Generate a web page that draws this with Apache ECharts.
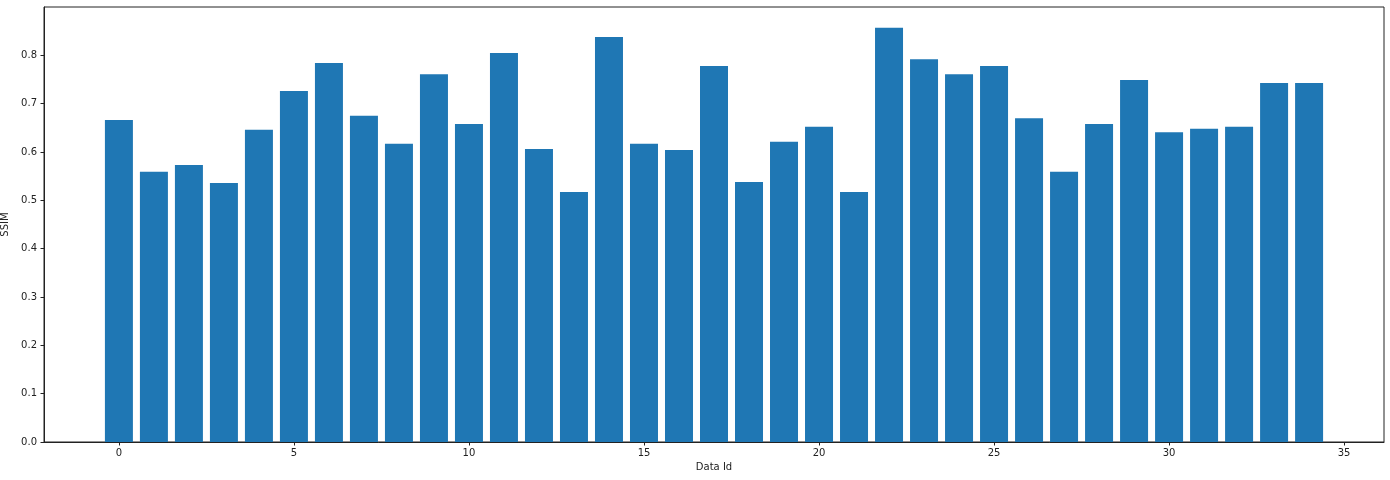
<!DOCTYPE html>
<html>
<head>
<meta charset="utf-8">
<script src="https://cdn.jsdelivr.net/npm/echarts@6/dist/echarts.min.js"></script>
<style>
html, body { margin: 0; padding: 0; background: #fff; }
#container { width: 1390px; height: 480px; }
</style>
</head>
<body>
<div id="container"></div>
<script>
// SSIM per data id
var dataIds = [0,1,2,3,4,5,6,7,8,9,10,11,12,13,14,15,16,17,18,19,20,21,22,23,24,25,26,27,28,29,30,31,32,33,34]
var ssim = [0.666,0.559,0.573,0.536,0.646,0.726,0.784,0.675,0.617,0.761,0.658,0.805,0.606,0.517,0.838,
	0.617,0.604,0.778,0.538,0.621,0.652,0.517,0.857,0.792,0.761,0.778,0.670,0.559,0.658,0.749,
	0.641,0.648,0.652,0.743,0.743]
var xTicks = [0,5,10,15,20,25,30,35]
var yTicks = [0,0.1,0.2,0.3,0.4,0.5,0.6,0.7,0.8]

var font = 'DejaVu Sans'
var dom = document.getElementById("container");
var myChart = echarts.init(dom);

var data = [];
for (var i = 0; i < dataIds.length; i++) {
	data.push([dataIds[i], ssim[i]]);
}

option = {
	animation: false,
	grid: {
		left: 44,
		right: 6,
		top: 7,
		bottom: 38,
		show: true,
		borderColor: '#222',
		borderWidth: 1,
		containLabel: false,
		outerBoundsMode: 'none'
	},
	xAxis: {
		type: 'value',
		min: -2.14,
		max: 36.14,
		name: 'Data Id',
		nameLocation: 'middle',
		nameGap: 20,
		nameTextStyle: { fontFamily: font, fontSize: 10, color: '#222' },
		axisLine: { show: true, onZero: false, lineStyle: { color: '#222', width: 1 } },
		axisTick: { show: true, length: 3.5, customValues: xTicks, lineStyle: { color: '#222' } },
		axisLabel: {
			customValues: xTicks,
			margin: 6,
			fontFamily: font, fontSize: 10, color: '#222'
		},
		splitLine: { show: false }
	},
	yAxis: {
		type: 'value',
		min: 0,
		max: 0.9,
		name: 'SSIM',
		nameLocation: 'middle',
		nameRotate: 90,
		nameGap: 27,
		nameTextStyle: { fontFamily: font, fontSize: 10, color: '#222' },
		axisLine: { show: true, onZero: false, lineStyle: { color: '#222', width: 1 } },
		axisTick: { show: true, length: 3.5, customValues: yTicks, lineStyle: { color: '#222' } },
		axisLabel: {
			customValues: yTicks,
			margin: 7,
			fontFamily: font, fontSize: 10, color: '#222',
			formatter: function (v) { return v.toFixed(1); }
		},
		splitLine: { show: false }
	},
	series: [
		{
			name: 'SSIM',
			type: 'bar',
			barWidth: 28,
			itemStyle: { color: '#1f77b4' },
			data: data
		}
	]
};
if (option && typeof option === "object") {
	myChart.setOption(option, true);
}
</script>
</body>
</html>
